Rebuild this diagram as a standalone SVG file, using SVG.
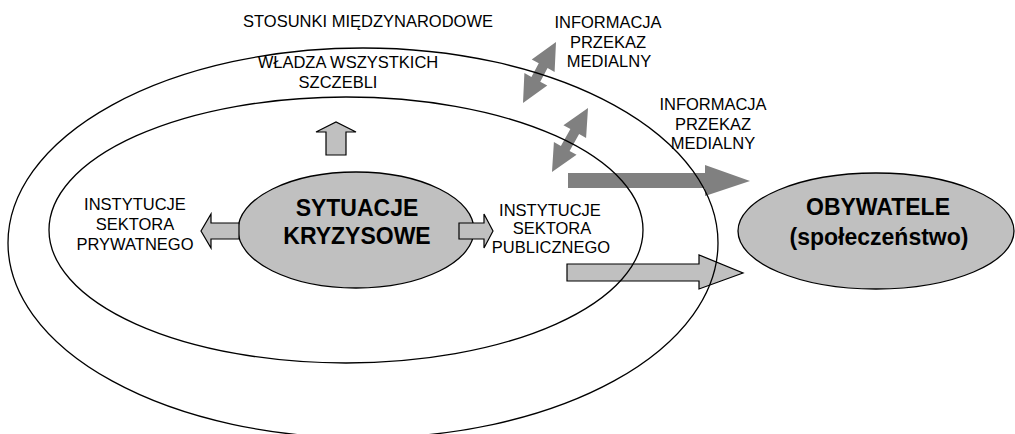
<svg xmlns="http://www.w3.org/2000/svg" width="1015" height="434" viewBox="0 0 1015 434">
<style>
.ring{fill:none;stroke:#000;stroke-width:1.3}
.node{fill:#c0c0c0;stroke:#000;stroke-width:1.3}
.lbl{font-family:"Liberation Sans",Arial,sans-serif;font-size:16.5px;fill:#000;text-anchor:middle}
.big{font-family:"Liberation Sans",Arial,sans-serif;font-size:23px;font-weight:bold;fill:#000;text-anchor:middle}
.la{fill:#c0c0c0;stroke:#000;stroke-width:1.2;stroke-linejoin:miter}
.da{fill:#808080;stroke:none}
</style>
<rect width="1015" height="434" fill="#fff"/>
<g id="connectors">
  <polygon class="da" points="568,173 705,173 705,165 750,181 705,196 705,188 568,188"/>
  <polygon class="la" points="567,264 699,264 699,255 743,273 699,289 699,281 567,281"/>
  <polygon class="da" transform="translate(539.5,72.5) rotate(-61.6)" points="-34.7,0 -7.7,-13 -7.7,-5 7.7,-5 7.7,-13 34.7,0 7.7,13 7.7,5 -7.7,5 -7.7,13"/>
  <polygon class="da" transform="translate(570,140) rotate(-60.6)" points="-36.7,0 -9.7,-13 -9.7,-5 9.7,-5 9.7,-13 36.7,0 9.7,13 9.7,5 -9.7,5 -9.7,13"/>
</g>
<g id="outer-ring">
  <ellipse class="ring" cx="363" cy="243" rx="355" ry="195"/>
</g>
<g id="inner-ring">
  <ellipse class="ring" cx="346" cy="230" rx="297" ry="133"/>
</g>
<g id="crisis">
  <ellipse class="node" cx="356" cy="230" rx="118" ry="58"/>
  <text class="big" x="357" y="216">SYTUACJE</text>
  <text class="big" x="357" y="244">KRYZYSOWE</text>
</g>
<g id="citizens">
  <ellipse class="node" cx="876" cy="231" rx="138" ry="58"/>
  <text class="big" x="878" y="215">OBYWATELE</text>
  <text class="big" x="879" y="245">(społeczeństwo)</text>
</g>
<g id="small-arrows">
  <polygon class="la" points="346,155 326,155 326,132 316,132 336,122 356,132 346,132"/>
  <polygon class="la" points="239,223 211,223 211,214 201,231 211,248 211,239 239,239"/>
  <polygon class="la" points="459,223 484,223 484,214 493,231 484,248 484,239 459,239"/>
</g>
<g id="label-international">
  <text class="lbl" x="368" y="27">STOSUNKI MIĘDZYNARODOWE</text>
</g>
<g id="label-authority">
  <text class="lbl" x="348" y="68">WŁADZA WSZYSTKICH</text>
  <text class="lbl" x="338" y="88">SZCZEBLI</text>
</g>
<g id="label-media-1">
  <text class="lbl" x="608" y="28">INFORMACJA</text>
  <text class="lbl" x="608" y="48">PRZEKAZ</text>
  <text class="lbl" x="609" y="67">MEDIALNY</text>
</g>
<g id="label-media-2">
  <text class="lbl" x="713" y="110">INFORMACJA</text>
  <text class="lbl" x="713" y="130">PRZEKAZ</text>
  <text class="lbl" x="713" y="149">MEDIALNY</text>
</g>
<g id="label-private">
  <text class="lbl" x="135" y="210">INSTYTUCJE</text>
  <text class="lbl" x="135" y="230">SEKTORA</text>
  <text class="lbl" x="135" y="250">PRYWATNEGO</text>
</g>
<g id="label-public">
  <text class="lbl" x="550" y="216">INSTYTUCJE</text>
  <text class="lbl" x="552" y="234">SEKTORA</text>
  <text class="lbl" x="551" y="253">PUBLICZNEGO</text>
</g>
</svg>
